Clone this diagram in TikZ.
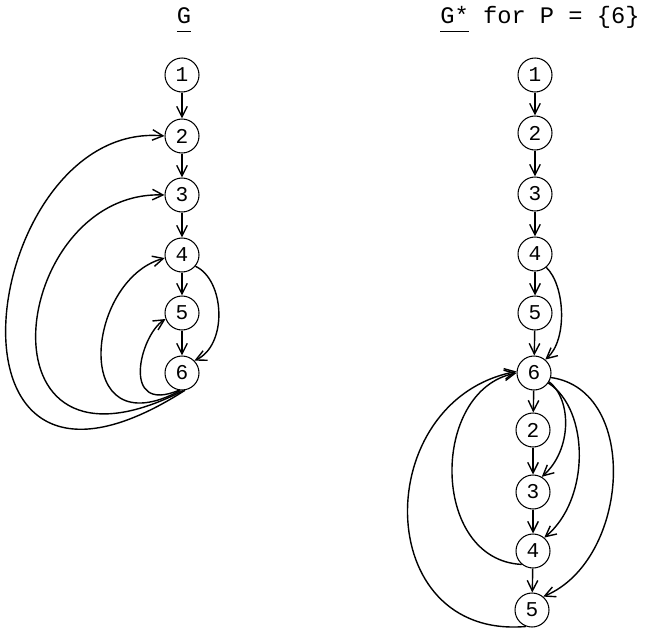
\documentclass[tikz,border=0pt]{standalone}
\usepackage{fontspec}
\setmonofont{Liberation Mono}
\usepackage{tikz}
\usetikzlibrary{arrows.meta}

\begin{document}
\begin{tikzpicture}[x=0.02cm, y=-0.02cm,
  vtx/.style={circle, draw, line width=0.6pt, minimum size=0.68cm, inner sep=0pt, font=\fontsize{12}{14}\selectfont\ttfamily},
  arr/.style={line width=0.8pt, -{Straight Barb[length=6pt, width=6pt]}},
  ttl/.style={font=\fontsize{13.5}{11}\selectfont\ttfamily, inner sep=0pt}]
\useasboundingbox (0,0) rectangle (645,632);
\begin{scope}
\node[ttl, anchor=base] (tG) at (184,23) {\underline{G\strut}};
\node[vtx] (l1) at (182,75) {1};
\node[vtx] (l2) at (182,136) {2};
\node[vtx] (l3) at (182,195) {3};
\node[vtx] (l4) at (182,255) {4};
\node[vtx] (l5) at (182,313) {5};
\node[vtx] (l6) at (182,373) {6};
\draw[arr] (l1) -- (l2);
\draw[arr] (l2) -- (l3);
\draw[arr] (l3) -- (l4);
\draw[arr] (l4) -- (l5);
\draw[arr] (l5) -- (l6);
\draw[arr] (l4.-40) .. controls (225,280) and (228,345) .. (l6.45);
\draw[arr] (l6.-100) .. controls (120,415) and (140,335) .. (l5.200);
\draw[arr] (l6.-95) .. controls (70,450) and (85,280) .. (l4.190);
\draw[arr] (l6.-85) .. controls (-30,500) and (10,190) .. (l3.180);
\draw[arr] (l6.-80) .. controls (-80,560) and (-20,120) .. (l2.180);
\end{scope}
\begin{scope}
\node[ttl, anchor=base west] (tGs) at (440,23) {\underline{G*\strut} for P = \{6\}};
\node[vtx] (r1) at (535,75) {1};
\node[vtx] (r2) at (535,133) {2};
\node[vtx] (r3) at (535,194) {3};
\node[vtx] (r4) at (535,254) {4};
\node[vtx] (r5) at (535,313) {5};
\node[vtx] (r6) at (534,373) {6};
\node[vtx] (q2) at (533,430) {2};
\node[vtx] (q3) at (533,492) {3};
\node[vtx] (q4) at (533,551) {4};
\node[vtx] (q5) at (532,610) {5};
\draw[arr] (r1) -- (r2);
\draw[arr] (r2) -- (r3);
\draw[arr] (r3) -- (r4);
\draw[arr] (r4) -- (r5);
\draw[arr] (r5) -- (r6);
\draw[arr] (r6) -- (q2);
\draw[arr] (q2) -- (q3);
\draw[arr] (q3) -- (q4);
\draw[arr] (q4) -- (q5);
\draw[arr] (r4.-50) .. controls (565,285) and (568,340) .. (r6.50);
\draw[arr] (r6.-30) .. controls (572,400) and (572,450) .. (q3.60);
\draw[arr] (r6.-35) .. controls (590,410) and (590,500) .. (q4.50);
\draw[arr] (r6.-15) .. controls (640,390) and (630,560) .. (q5.50);
\draw[arr] (q4.-130) .. controls (430,560) and (430,390) .. (r6.180);
\draw[arr] (q5.-110) .. controls (370,640) and (370,400) .. (r6.175);
\end{scope}
\end{tikzpicture}
\end{document}
